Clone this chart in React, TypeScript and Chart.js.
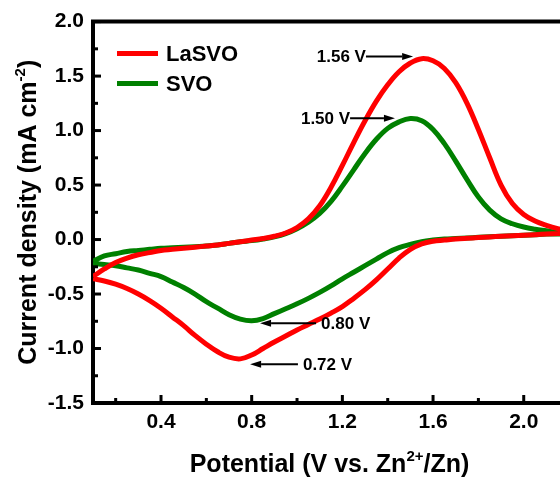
import { useEffect, useRef } from 'react';
import { Chart, registerables } from 'chart.js';

Chart.register(...registerables);

// ---------------- data ----------------
const potential = [
  0.1, 0.15, 0.2, 0.25, 0.3, 0.35, 0.4, 0.45, 0.5, 0.55, 0.6, 0.65, 0.7, 0.75, 0.8,
  0.85, 0.9, 0.95, 1.0, 1.05, 1.1, 1.15, 1.2, 1.25, 1.3, 1.35, 1.4, 1.45, 1.5, 1.55,
  1.6, 1.65, 1.7, 1.75, 1.8, 1.85, 1.9, 1.95, 2.0, 2.05, 2.1, 2.15, 2.2,
];

// LaSVO, forward (anodic) sweep
const lasvoAnodic = [
  -0.34, -0.27, -0.21, -0.17, -0.14, -0.12, -0.1, -0.09, -0.08, -0.07, -0.06, -0.05, -0.035, -0.02, -0.005,
  0.01, 0.03, 0.06, 0.11, 0.19, 0.31, 0.48, 0.68, 0.89, 1.09, 1.27, 1.42, 1.54, 1.62, 1.66,
  1.64, 1.57, 1.44, 1.25, 1.01, 0.75, 0.5, 0.33, 0.23, 0.17, 0.13, 0.1, 0.08,
];
// LaSVO, reverse (cathodic) sweep, listed by ascending potential
const lasvoCathodic = [
  -0.36, -0.38, -0.41, -0.45, -0.5, -0.56, -0.63, -0.71, -0.79, -0.88, -0.96, -1.03, -1.08, -1.095, -1.06,
  -1.0, -0.94, -0.885, -0.83, -0.78, -0.73, -0.675, -0.615, -0.54, -0.46, -0.37, -0.27, -0.17, -0.09, -0.04,
  -0.015, -0.005, 0.005, 0.012, 0.018, 0.024, 0.03, 0.035, 0.04, 0.045, 0.05, 0.055, 0.06,
];
// SVO, forward (anodic) sweep
const svoAnodic = [
  -0.2, -0.15, -0.13, -0.11, -0.1, -0.09, -0.08, -0.075, -0.07, -0.065, -0.06, -0.05, -0.035, -0.02, -0.01,
  0.005, 0.025, 0.055, 0.1, 0.16, 0.24, 0.35, 0.49, 0.64, 0.79, 0.92, 1.02, 1.08, 1.11, 1.09,
  1.01, 0.88, 0.72, 0.55, 0.39, 0.27, 0.19, 0.145, 0.115, 0.095, 0.08, 0.065, 0.055,
];
// SVO, reverse (cathodic) sweep, listed by ascending potential
const svoCathodic = [
  -0.22, -0.23, -0.24, -0.26, -0.28, -0.31, -0.34, -0.39, -0.44, -0.5, -0.57, -0.63, -0.69, -0.73, -0.745,
  -0.725, -0.68, -0.635, -0.59, -0.54, -0.485, -0.425, -0.36, -0.3, -0.24, -0.18, -0.12, -0.075, -0.045, -0.02,
  -0.005, 0.005, 0.01, 0.015, 0.02, 0.025, 0.03, 0.035, 0.04, 0.045, 0.05, 0.05, 0.055,
];

const seriesLabels = ['LaSVO', 'SVO'];
const seriesColors = ['#ff0000', '#008000'];

const xTickValues = [0.4, 0.8, 1.2, 1.6, 2.0];
const xMinorTickValues = [0.2, 0.6, 1.0, 1.4, 1.8];
const yTickValues = [-1.5, -1.0, -0.5, 0.0, 0.5, 1.0, 1.5, 2.0];
const yMinorTickValues = [-1.25, -0.75, -0.25, 0.25, 0.75, 1.25, 1.75];

const peakLabels = ['1.56 V', '1.50 V', '0.80 V', '0.72 V'];
const peakArrowTip = [1.512, 1.432, 0.837, 0.793];
const peakArrowTail = [1.304, 1.234, 1.084, 1.004];
const peakArrowY = [1.68, 1.114, -0.769, -1.144];

const xTitleParts = [
  { text: 'Potential (V vs. Zn', sup: false },
  { text: '2+', sup: true },
  { text: '/Zn)', sup: false },
];
const yTitleParts = [
  { text: 'Current density (mA cm', sup: false },
  { text: '-2', sup: true },
  { text: ')', sup: false },
];

// ---------------- helpers ----------------
const FAMILY = '"Liberation Sans", Arial, Helvetica, sans-serif';

function loop(anodic: number[], cathodic: number[]) {
  const fwd = potential.map((x, i) => ({ x, y: anodic[i] }));
  const back = potential.map((x, i) => ({ x, y: cathodic[i] })).reverse();
  return fwd.concat(back);
}

function drawRich(
  ctx: CanvasRenderingContext2D,
  parts: { text: string; sup: boolean }[],
  cx: number,
  cy: number,
  rotation: number,
  size: number,
  supSize: number,
  rise: number
) {
  ctx.save();
  ctx.translate(cx, cy);
  ctx.rotate(rotation);
  ctx.fillStyle = '#000';
  ctx.textBaseline = 'middle';
  ctx.textAlign = 'left';
  const widths = parts.map((p) => {
    ctx.font = `bold ${p.sup ? supSize : size}px ${FAMILY}`;
    return ctx.measureText(p.text).width;
  });
  const total = widths.reduce((a, b) => a + b, 0);
  let x = -total / 2;
  parts.forEach((p, i) => {
    ctx.font = `bold ${p.sup ? supSize : size}px ${FAMILY}`;
    ctx.fillText(p.text, x, p.sup ? -rise : 0);
    x += widths[i];
  });
  ctx.restore();
}

const framePlugin = {
  id: 'framePlugin',
  afterDraw(chart: any) {
    const { ctx, chartArea, scales } = chart;
    const xs = scales.x;
    const ys = scales.y;
    ctx.save();
    // top frame line
    ctx.strokeStyle = '#000';
    ctx.lineWidth = 4;
    ctx.beginPath();
    ctx.moveTo(chartArea.left - 2, chartArea.top);
    ctx.lineTo(chartArea.right, chartArea.top);
    ctx.stroke();

    // inward ticks
    ctx.lineWidth = 3;
    const tick = (x1: number, y1: number, x2: number, y2: number) => {
      ctx.beginPath();
      ctx.moveTo(x1, y1);
      ctx.lineTo(x2, y2);
      ctx.stroke();
    };
    xTickValues.forEach((v) => {
      const px = xs.getPixelForValue(v);
      tick(px, chartArea.bottom, px, chartArea.bottom - 8);
    });
    xMinorTickValues.forEach((v) => {
      const px = xs.getPixelForValue(v);
      tick(px, chartArea.bottom, px, chartArea.bottom - 5);
    });
    yTickValues.forEach((v) => {
      const py = ys.getPixelForValue(v);
      tick(chartArea.left, py, chartArea.left + 8, py);
    });
    yMinorTickValues.forEach((v) => {
      const py = ys.getPixelForValue(v);
      tick(chartArea.left, py, chartArea.left + 5, py);
    });

    // legend
    chart.data.datasets.forEach((ds: any, i: number) => {
      const y = chartArea.top + 32 + i * 30;
      ctx.strokeStyle = ds.borderColor;
      ctx.lineWidth = 5;
      ctx.beginPath();
      ctx.moveTo(chartArea.left + 24, y);
      ctx.lineTo(chartArea.left + 65, y);
      ctx.stroke();
      ctx.fillStyle = '#000';
      ctx.font = `bold 22px ${FAMILY}`;
      ctx.textAlign = 'left';
      ctx.textBaseline = 'middle';
      ctx.fillText(ds.label, chartArea.left + 73, y + 1);
    });

    // peak annotations
    peakLabels.forEach((label, i) => {
      const tip = xs.getPixelForValue(peakArrowTip[i]);
      const tail = xs.getPixelForValue(peakArrowTail[i]);
      const y = ys.getPixelForValue(peakArrowY[i]);
      const dir = tip > tail ? 1 : -1;
      const headLen = 11;
      ctx.strokeStyle = '#000';
      ctx.fillStyle = '#000';
      ctx.lineWidth = 2;
      ctx.beginPath();
      ctx.moveTo(tail, y);
      ctx.lineTo(tip - dir * headLen, y);
      ctx.stroke();
      ctx.beginPath();
      ctx.moveTo(tip, y);
      ctx.lineTo(tip - dir * headLen, y - 3.5);
      ctx.lineTo(tip - dir * headLen, y + 3.5);
      ctx.closePath();
      ctx.fill();
      ctx.font = `bold 17px ${FAMILY}`;
      ctx.textBaseline = 'middle';
      if (dir > 0) {
        ctx.textAlign = 'right';
        ctx.fillText(label, tail, y + 1);
      } else {
        ctx.textAlign = 'left';
        ctx.fillText(label, tail + 5, y + 1);
      }
    });

    // axis titles
    drawRich(ctx, xTitleParts, (chartArea.left + chartArea.right) / 2 + 3, chartArea.bottom + 62, 0, 25, 15, 8);
    drawRich(ctx, yTitleParts, chartArea.left - 64, (chartArea.top + chartArea.bottom) / 2, -Math.PI / 2, 25, 15, 8);
    ctx.restore();
  },
};

export default function App() {
  const ref = useRef<HTMLCanvasElement | null>(null);

  useEffect(() => {
    if (!ref.current) return;
    const tickFont = { family: FAMILY, size: 21, weight: 'bold' as const };
    const chart = new Chart(ref.current, {
      type: 'scatter',
      data: {
        datasets: [
          {
            label: seriesLabels[0],
            data: loop(lasvoAnodic, lasvoCathodic),
            borderColor: seriesColors[0],
            backgroundColor: seriesColors[0],
            showLine: true,
            pointRadius: 0,
            borderWidth: 5,
            tension: 0.4,
          },
          {
            label: seriesLabels[1],
            data: loop(svoAnodic, svoCathodic),
            borderColor: seriesColors[1],
            backgroundColor: seriesColors[1],
            showLine: true,
            pointRadius: 0,
            borderWidth: 5,
            tension: 0.4,
          },
        ],
      },
      options: {
        responsive: false,
        animation: false,
        devicePixelRatio: 1,
        layout: { padding: { top: 20, right: 0, left: 0, bottom: 0 } },
        plugins: { legend: { display: false }, tooltip: { enabled: false } },
        scales: {
          x: {
            type: 'linear',
            min: 0.1,
            max: 2.16,
            afterFit: (s: any) => {
              s.height = 78;
            },
            afterBuildTicks: (s: any) => {
              s.ticks = xTickValues.map((v) => ({ value: v }));
            },
            ticks: {
              font: tickFont,
              color: '#000',
              padding: 7,
              maxRotation: 0,
              autoSkip: false,
              callback: (v: any) => Number(v).toFixed(1),
            },
            grid: { drawOnChartArea: false, drawTicks: false },
            border: { display: true, width: 4, color: '#000' },
          },
          y: {
            type: 'linear',
            min: -1.5,
            max: 2.0,
            afterFit: (s: any) => {
              s.width = 93;
            },
            afterBuildTicks: (s: any) => {
              s.ticks = yTickValues.map((v) => ({ value: v }));
            },
            ticks: {
              font: tickFont,
              color: '#000',
              padding: 9,
              autoSkip: false,
              callback: (v: any) => Number(v).toFixed(1),
            },
            grid: { drawOnChartArea: false, drawTicks: false },
            border: { display: true, width: 4, color: '#000' },
          },
        },
      },
      plugins: [framePlugin],
    });
    return () => chart.destroy();
  }, []);

  return (
    <div style={{ position: 'absolute', left: 0, top: 0, width: 560, height: 481, background: '#fff' }}>
      <canvas ref={ref} width={560} height={481} />
    </div>
  );
}
